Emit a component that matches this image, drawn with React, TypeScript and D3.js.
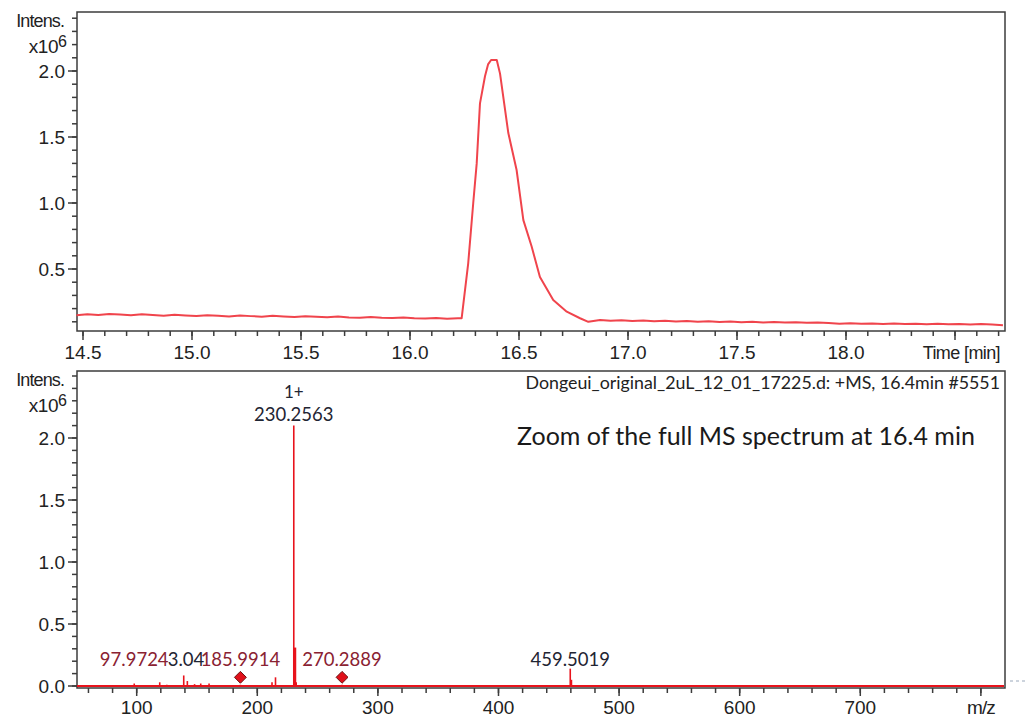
import { useEffect, useRef } from 'react';
import * as d3 from 'd3';

// chromatogram (EIC), intensity in 1e6
const chromTime = [
  14.47, 14.52, 14.57, 14.62, 14.67, 14.72, 14.77, 14.82, 14.87, 14.92, 14.97, 15.02,
  15.07, 15.12, 15.17, 15.22, 15.27, 15.32, 15.37, 15.42, 15.47, 15.52, 15.57, 15.62,
  15.67, 15.72, 15.77, 15.82, 15.87, 15.92, 15.97, 16.02, 16.07, 16.12, 16.17, 16.22,
  16.237, 16.267, 16.29, 16.306, 16.321, 16.344, 16.358, 16.372, 16.398, 16.413, 16.451, 16.489,
  16.52, 16.558, 16.596, 16.657, 16.719, 16.78, 16.818, 16.872,
  16.92, 16.97, 17.02, 17.07, 17.12, 17.17, 17.22, 17.27, 17.32, 17.37, 17.42, 17.47,
  17.52, 17.57, 17.62, 17.67, 17.72, 17.77, 17.82, 17.87, 17.92, 17.97, 18.02, 18.07,
  18.12, 18.17, 18.22, 18.27, 18.32, 18.37, 18.42, 18.47, 18.52, 18.57, 18.62, 18.67, 18.72,
];
const chromIntens = [
  0.150, 0.158, 0.152, 0.160, 0.156, 0.149, 0.157, 0.151, 0.146, 0.153, 0.148, 0.144,
  0.150, 0.146, 0.141, 0.147, 0.143, 0.139, 0.145, 0.140, 0.136, 0.142, 0.138, 0.134,
  0.140, 0.133, 0.131, 0.136, 0.130, 0.128, 0.133, 0.127, 0.125, 0.129, 0.124, 0.126,
  0.127, 0.543, 0.998, 1.30, 1.755, 1.96, 2.05, 2.083, 2.083, 1.98, 1.53, 1.25,
  0.87, 0.67, 0.44, 0.265, 0.177, 0.127, 0.10, 0.114,
  0.108, 0.112, 0.106, 0.110, 0.104, 0.108, 0.103, 0.106, 0.100, 0.104, 0.099, 0.102,
  0.097, 0.100, 0.095, 0.098, 0.094, 0.096, 0.092, 0.095, 0.090, 0.086, 0.089, 0.085,
  0.088, 0.084, 0.087, 0.083, 0.086, 0.082, 0.085, 0.081, 0.084, 0.080, 0.083, 0.079, 0.074,
];

// MS spectrum at 16.4 min, intensity in 1e6
const specMz = [
  97.97, 119.1, 125.0, 139.0, 142.0, 148.0, 153.1, 160.0, 185.99,
  212.2, 215.1, 230.2563, 231.26, 232.26, 270.2889, 459.5019, 460.5,
];
const specIntens = [
  0.02, 0.03, 0.01, 0.085, 0.04, 0.015, 0.02, 0.02, 0.01,
  0.03, 0.07, 2.1, 0.31, 0.03, 0.01, 0.14, 0.05,
];

const labelMz = [97.97, 140.9, 185.99, 270.2889, 459.5019];
const labelText = ['97.9724', '3.04', '185.9914', '270.2889', '459.5019'];
const labelDark = [false, true, false, false, true];
const markerMz = [185.9914, 270.2889];

const timeTicks = [14.5, 15.0, 15.5, 16.0, 16.5, 17.0, 17.5, 18.0, 18.5];
const mzTicks = [100, 200, 300, 400, 500, 600, 700, 800];
const intensTicksTop = [0.5, 1.0, 1.5, 2.0];
const intensTicksBottom = [0.0, 0.5, 1.0, 1.5, 2.0];

export default function App() {
  const svgRef = useRef<SVGSVGElement>(null);

  useEffect(() => {
    const svg = d3.select(svgRef.current);
    svg.selectAll('*').remove();

    const W = 1025, H = 719;
    const L = 77, R = 1005;
    const axisFont = "'Liberation Sans', Arial, sans-serif";
    const labelFont = "Lato, 'Open Sans', sans-serif";
    const frame = '#3c3c3c';
    const red = '#e8131c';

    svg.attr('width', W).attr('height', H).attr('viewBox', `0 0 ${W} ${H}`);
    svg.append('rect').attr('width', W).attr('height', H).attr('fill', '#fff');

    function g_line(x1: number, x2: number, y1: number, y2: number) {
      svg.append('line').attr('x1', x1).attr('x2', x2).attr('y1', y1).attr('y2', y2)
        .attr('stroke', frame).attr('stroke-width', 1.5);
    }

    // scales
    const xT = d3.scaleLinear().domain([14.5, 18.0]).range([83, 846]);
    const yT = d3.scaleLinear().domain([0, 2]).range([335, 71]);
    const xM = d3.scaleLinear().domain([50.5, 820]).range([L, R]);
    const yM = d3.scaleLinear().domain([0, 2]).range([686, 438]);

    const panels = [
      { top: 12, bottom: 331, y: yT, yTicks: intensTicksTop, yMinor: d3.range(1, 25).map(i => i / 10) },
      { top: 371, bottom: 688, y: yM, yTicks: intensTicksBottom, yMinor: d3.range(0, 26).map(i => i / 10) },
    ];

    panels.forEach(p => {
      // frame
      svg.append('rect').attr('x', L).attr('y', p.top)
        .attr('width', R - L).attr('height', p.bottom - p.top)
        .attr('fill', 'none').attr('stroke', frame).attr('stroke-width', 1.5);

      // y ticks
      p.yMinor.forEach(v => {
        const y = p.y(v);
        if (y < p.top + 2 || y > p.bottom) return;
        g_line(L - 5, L, y, y);
      });
      p.yTicks.forEach(v => {
        const y = p.y(v);
        g_line(L - 9, L, y, y);
        svg.append('text').attr('x', L - 12).attr('y', y).attr('dy', '0.36em')
          .attr('text-anchor', 'end').attr('font-family', axisFont).attr('font-size', 19)
          .attr('fill', '#222').text(v.toFixed(1));
      });

      // y label
      svg.append('text').attr('x', 64).attr('y', p.top + 15)
        .attr('text-anchor', 'end').attr('font-family', axisFont).attr('font-size', 18)
        .attr('letter-spacing', -0.9).attr('fill', '#222').text('Intens.');
      svg.append('text').attr('x', 58).attr('y', p.top + 41)
        .attr('text-anchor', 'end').attr('font-family', axisFont).attr('font-size', 19)
        .attr('letter-spacing', -0.5).attr('fill', '#222').text('x10');
      svg.append('text').attr('x', 58).attr('y', p.top + 35)
        .attr('font-family', axisFont).attr('font-size', 16).attr('fill', '#222').text('6');
    });

    // top x axis
    d3.range(145, 188).map(i => i / 10).forEach(t => {
      const x = xT(t);
      if (x > R) return;
      g_line(x, x, 331, 336);
    });
    timeTicks.forEach((t, i) => {
      const x = xT(t);
      g_line(x, x, 331, 340);
      if (i < timeTicks.length - 1) {
        svg.append('text').attr('x', x).attr('y', 359).attr('text-anchor', 'middle')
          .attr('font-family', axisFont).attr('font-size', 19).attr('fill', '#222')
          .text(t.toFixed(1));
      }
    });
    svg.append('text').attr('x', 1000).attr('y', 359).attr('text-anchor', 'end')
      .attr('font-family', axisFont).attr('font-size', 18).attr('letter-spacing', -0.6)
      .attr('fill', '#222').text('Time [min]');

    // bottom x axis
    d3.range(60, 821, 20).forEach(m => {
      const x = xM(m);
      if (x > R - 2) return;
      g_line(x, x, 688, 693);
    });
    mzTicks.forEach((m, i) => {
      const x = xM(m);
      g_line(x, x, 688, 696);
      svg.append('text').attr('x', x).attr('y', 714).attr('text-anchor', 'middle')
        .attr('font-family', axisFont).attr('font-size', 19).attr('fill', '#222')
        .attr('letter-spacing', i === mzTicks.length - 1 ? -1 : 0)
        .text(i < mzTicks.length - 1 ? String(m) : 'm/z');
    });

    // chromatogram
    const line = d3.line<number>()
      .x((_, i) => xT(chromTime[i]))
      .y(d => yT(d));
    svg.append('path').datum(chromIntens).attr('d', line)
      .attr('fill', 'none').attr('stroke', '#f0444c').attr('stroke-width', 2)
      .attr('stroke-linejoin', 'round');

    // spectrum baseline and sticks
    svg.append('line').attr('x1', L).attr('x2', R - 1).attr('y1', yM(0)).attr('y2', yM(0))
      .attr('stroke', red).attr('stroke-width', 2);
    specMz.forEach((m, i) => {
      svg.append('line').attr('x1', xM(m)).attr('x2', xM(m))
        .attr('y1', yM(0)).attr('y2', yM(specIntens[i]))
        .attr('stroke', red).attr('stroke-width', i === 12 ? 2.5 : 1.6);
    });

    // peak labels
    labelMz.forEach((m, i) => {
      svg.append('text').attr('x', xM(m)).attr('y', 666).attr('text-anchor', 'middle')
        .attr('font-family', labelFont).attr('font-size', 18.5)
        .attr('fill', labelDark[i] ? '#1f2533' : '#8a2232')
        .text(labelText[i]);
    });
    const xMain = xM(230.2563);
    svg.append('text').attr('x', xMain).attr('y', 398).attr('text-anchor', 'middle')
      .attr('font-family', labelFont).attr('font-size', 17).attr('fill', '#1f2533').text('1+');
    svg.append('text').attr('x', xMain).attr('y', 421).attr('text-anchor', 'middle')
      .attr('font-family', labelFont).attr('font-size', 18.5).attr('fill', '#1f2533').text('230.2563');

    // diamonds
    markerMz.forEach(m => {
      svg.append('path')
        .attr('d', d3.symbol().type(d3.symbolDiamond2).size(90)())
        .attr('transform', `translate(${xM(m)},${yM(0.07)})`)
        .attr('fill', '#e0101a').attr('stroke', '#6a1010').attr('stroke-width', 1);
    });

    // header and annotation
    svg.append('text').attr('x', 1000).attr('y', 389).attr('text-anchor', 'end')
      .attr('font-family', labelFont).attr('font-size', 17.8).attr('fill', '#222')
      .text('Dongeui_original_2uL_12_01_17225.d: +MS, 16.4min #5551');
    svg.append('text').attr('x', 517).attr('y', 445)
      .attr('font-family', labelFont).attr('font-size', 25).attr('fill', '#1a1a1a')
      .text('Zoom of the full MS spectrum at 16.4 min');

    // dashed stub right of frame
    svg.append('line').attr('x1', 1010).attr('x2', 1025).attr('y1', 681).attr('y2', 681)
      .attr('stroke', '#9aa8bb').attr('stroke-width', 1).attr('stroke-dasharray', '3,3');
  }, []);

  return (
    <div style={{ position: 'fixed', left: 0, top: 0, width: 1025, height: 719, background: '#fff' }}>
      <svg ref={svgRef} style={{ display: 'block' }} />
    </div>
  );
}
